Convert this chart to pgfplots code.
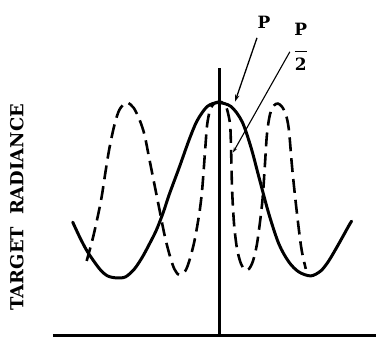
\documentclass[border=0pt]{standalone}
\usepackage{pgfplots}
\pgfplotsset{compat=1.18}
\usepackage{fontspec}
\setmainfont{DejaVu Serif}
\usetikzlibrary{arrows.meta}

\begin{document}
\begin{tikzpicture}
\begin{axis}[
  scale only axis,
  width=324bp, height=269bp,
  xmin=-167, xmax=157, ymin=0, ymax=269,
  enlargelimits=false,
  axis lines=middle,
  axis line style={-, line width=3bp},
  every inner x axis line/.append style={-},
  every inner y axis line/.append style={-},
  xtick=\empty, ytick=\empty,
  clip=false,
]
% overall page extent
\path (axis cs:-220,-4) rectangle (axis cs:157,337);

% radiance seen with chopping period P (solid)
\addplot[black, line width=3bp, smooth, line cap=round] coordinates {
  (-147,114) (-140,99) (-132,84) (-120,67) (-112,60) (-103,58) (-94,59)
  (-85,67) (-77,79) (-70,92) (-63,106) (-56,124) (-50,142) (-40,169)
  (-30,197) (-22,216) (-12,230) (-1,234) (12,230) (23,215) (32,189)
  (40,159) (50,122) (60,92) (70,74) (80,64) (92,60) (102,65) (110,75)
  (120,92) (130,110) (133,115)
};

% radiance seen with chopping period P/2 (dashed)
\addplot[black, line width=2.6bp, smooth, dash pattern=on 14bp off 7bp] coordinates {
  (-133,75) (-127,97) (-122,119) (-118,139) (-114,165) (-110,189)
  (-105,212) (-100,227) (-93,234) (-86,229) (-80,217) (-75,202)
  (-70,177) (-65,152) (-60,127) (-55,102) (-50,82) (-45,67) (-40,61)
  (-34,65) (-30,75) (-25,94) (-20,122) (-17,147) (-14,187) (-12,212)
  (-9,227) (-5,233) (0,235) (5,233) (8,227) (11,212) (12,187) (13,147)
  (15,112) (18,87) (22,72) (26,66) (30,67) (34,75) (38,92) (42,122)
  (44,142) (46,172) (48,202) (51,222) (55,231) (59,233) (63,230)
  (67,222) (70,207) (73,172) (76,142) (80,107) (83,85) (87,67)
};

% leader lines to the two curves
\addplot[black, line width=1.3bp, -{Stealth[length=7bp,width=4.5bp]}]
  coordinates {(38,299) (16,235)};
\addplot[black, line width=1.1bp, -{Stealth[length=5bp,width=3.5bp]}]
  coordinates {(71,285) (14,184)};

\node[font=\fontsize{17bp}{20bp}\selectfont\bfseries] at (axis cs:45,315) {P};
\node[font=\fontsize{17bp}{20bp}\selectfont\bfseries, inner sep=0pt,
      align=center] at (axis cs:82,290)
  {\textbf{P}\\[-3bp]\rule{12bp}{1.6bp}\\[-2bp]\textbf{2}};

\node[rotate=90, font=\fontsize{18bp}{21bp}\selectfont\bfseries]
  at (axis cs:-203,129) {TARGET\hspace{12bp}RADIANCE};
\end{axis}
\end{tikzpicture}
\end{document}
